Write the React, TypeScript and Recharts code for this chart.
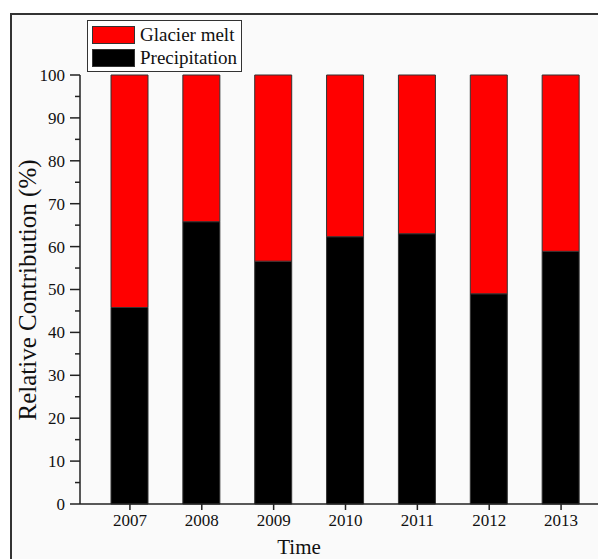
import React from "react";
import { BarChart, Bar, XAxis, YAxis } from "recharts";

// Relative contribution of runoff sources per year (%)
const years = ["2007", "2008", "2009", "2010", "2011", "2012", "2013"];
const precipitation = [45.8, 65.8, 56.6, 62.3, 63.0, 49.0, 58.9];
const glacierMelt = [54.2, 34.2, 43.4, 37.7, 37.0, 51.0, 41.1];
const yTicks = [0, 5, 10, 15, 20, 25, 30, 35, 40, 45, 50, 55, 60, 65, 70, 75, 80, 85, 90, 95, 100];

const data = years.map((year, i) => ({
  year,
  precipitation: precipitation[i],
  glacierMelt: glacierMelt[i],
}));

const FONT = '"Liberation Serif", "Times New Roman", serif';
const AXIS = "#222";

// Y ticks: major every 10 with labels, minor every 5 without
const YTick = (props: any) => {
  const { x, y, payload } = props;
  const major = payload.value % 10 === 0;
  return (
    <g>
      <line x1={x - (major ? 10 : 5)} x2={x} y1={y} y2={y} stroke={AXIS} strokeWidth={1.5} />
      {major && (
        <text x={x - 15} y={y} dy="0.35em" textAnchor="end" fontSize={17} fontFamily={FONT} fill="#111">
          {payload.value}
        </text>
      )}
    </g>
  );
};

const legendItems = [
  { name: "Glacier melt", color: "#ff0000" },
  { name: "Precipitation", color: "#000000" },
];

const LegendBox = () => (
  <div
    style={{
      position: "absolute",
      left: 87,
      top: 20,
      border: "1.5px solid #333",
      background: "#fff",
      padding: "2px 4px 2px 4px",
      fontFamily: FONT,
      fontSize: 19,
      lineHeight: "23px",
      color: "#111",
    }}
  >
    {legendItems.map((it) => (
      <div key={it.name} style={{ display: "flex", alignItems: "center" }}>
        <span
          style={{
            display: "inline-block",
            width: 41,
            height: 16,
            background: it.color,
            border: "1px solid #333",
            marginRight: 5,
          }}
        />
        <span>{it.name}</span>
      </div>
    ))}
  </div>
);

export default function App() {
  return (
    <div style={{ position: "absolute", left: 0, top: 0, width: 598, height: 559, overflow: "hidden", background: "#fff" }}>
      <div
        style={{
          position: "absolute",
          left: 10,
          top: 13,
          width: 620,
          height: 600,
          borderLeft: "2px solid #333",
          borderTop: "2px solid #333",
          background: "#fafafa",
        }}
      />
      <div style={{ position: "absolute", left: 0, top: 0 }}>
        <BarChart
          width={598}
          height={559}
          data={data}
          margin={{ top: 75, right: 0, bottom: 25, left: 0 }}
        >
          <XAxis
            dataKey="year"
            height={30}
            padding={{ left: 14, right: 1 }}
            tickSize={6}
            tickMargin={4}
            axisLine={{ stroke: AXIS, strokeWidth: 1.5 }}
            tickLine={{ stroke: AXIS, strokeWidth: 1.5 }}
            tick={{ fontSize: 17, fontFamily: FONT, fill: "#111" }}
          />
          <YAxis
            width={80}
            domain={[0, 100]}
            ticks={yTicks}
            interval={0}
            tickSize={0}
            tickMargin={0}
            tickLine={false}
            axisLine={{ stroke: AXIS, strokeWidth: 1.5 }}
            tick={<YTick />}
          />
          <Bar
            dataKey="precipitation"
            name="Precipitation"
            stackId="a"
            fill="#000000"
            stroke="#333"
            strokeWidth={1}
            barSize={37}
            isAnimationActive={false}
          />
          <Bar
            dataKey="glacierMelt"
            name="Glacier melt"
            stackId="a"
            fill="#ff0000"
            stroke="#333"
            strokeWidth={1}
            barSize={37}
            isAnimationActive={false}
          />
        </BarChart>
      </div>
      <LegendBox />
      <div
        style={{
          position: "absolute",
          left: 28,
          top: 290,
          transform: "translate(-50%, -50%) rotate(-90deg)",
          whiteSpace: "nowrap",
          fontFamily: FONT,
          fontSize: 25,
          color: "#111",
        }}
      >
        Relative Contribution (%)
      </div>
      <div
        style={{
          position: "absolute",
          left: 299,
          top: 537,
          transform: "translateX(-50%)",
          whiteSpace: "nowrap",
          fontFamily: FONT,
          fontSize: 21,
          lineHeight: "21px",
          color: "#111",
        }}
      >
        Time
      </div>
    </div>
  );
}
